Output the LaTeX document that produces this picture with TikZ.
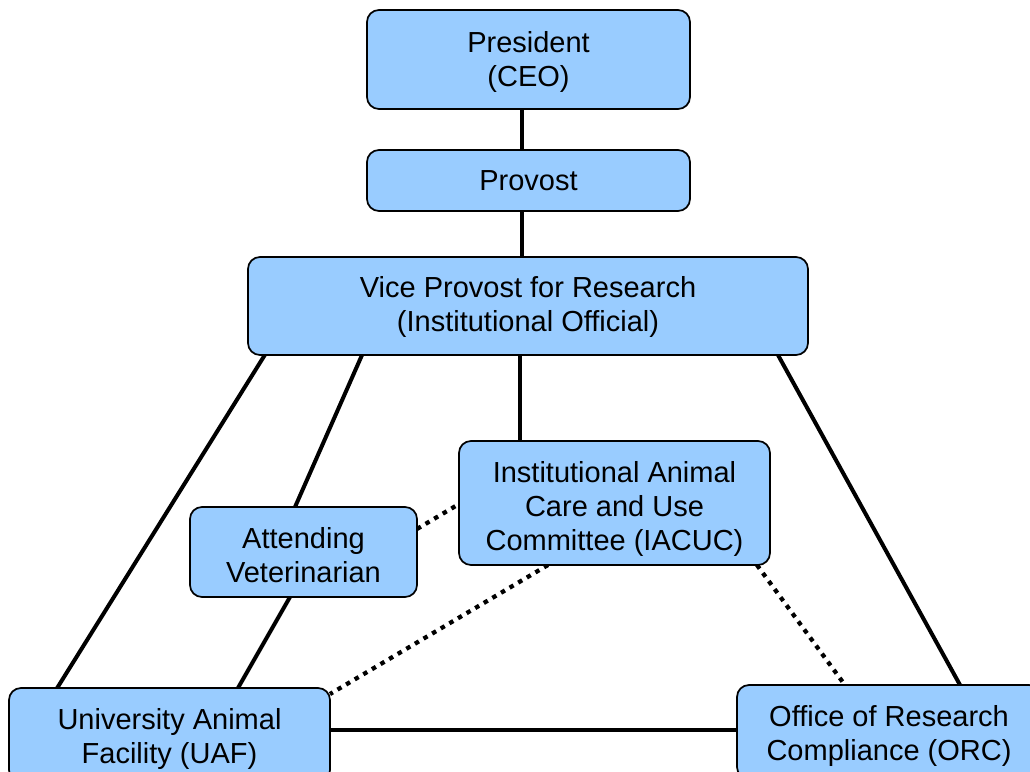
\documentclass[tikz,border=0pt]{standalone}
\usepackage{fontspec}
\setmainfont{Liberation Sans}
\usetikzlibrary{calc,backgrounds}
\definecolor{boxblue}{HTML}{99CCFF}
\tikzset{
  orgbox/.style={draw=black, fill=boxblue, line width=1.3pt, rounded corners=9pt,
    inner sep=0pt, outer sep=0pt, align=center,
    font=\fontsize{21.75}{25.5}\selectfont},
  solidline/.style={draw=black, line width=3pt},
  dotline/.style={draw=black, line width=3.2pt, dash pattern=on 3.4pt off 4.1pt}
}
\newcommand{\upstrut}[1]{\rule{0pt}{#1}}
\begin{document}
\begin{tikzpicture}[x=0.75pt,y=-0.75pt]
\useasboundingbox (0,0) rectangle (1030,771);
\clip (0,0) rectangle (1030,771);
\node[orgbox, minimum width=242.25pt, minimum height=74.25pt] (pres) at (528.5,59.5) {\upstrut{19pt}President\\(CEO)};
\node[orgbox, minimum width=242.25pt, minimum height=45.75pt] (prov) at (528.5,180.5) {Provost};
\node[orgbox, minimum width=420pt, minimum height=73.5pt] (vp) at (528,306) {\upstrut{17.5pt}Vice Provost for Research\\(Institutional Official)};
\node[orgbox, minimum width=233.25pt, minimum height=93pt] (iacuc) at (614.5,503) {\upstrut{25pt}Institutional Animal\\Care and Use\\Committee (IACUC)};
\node[orgbox, minimum width=170.25pt, minimum height=67.5pt] (vet) at (303.5,552) {\upstrut{20.5pt}Attending\\Veterinarian};
\node[orgbox, minimum width=240.75pt, minimum height=70.5pt] (uaf) at (169.5,735) {\upstrut{22pt}University Animal\\Facility (UAF)};
\node[orgbox, minimum width=228pt, minimum height=70.5pt] (orc) at (889,732) {\upstrut{22pt}Office of Research\\Compliance (ORC)};
\coordinate (xa) at (522,0);
\coordinate (xb) at (520,0);
\begin{scope}[on background layer]
  \draw[solidline] (pres.south -| xa) -- (prov.north -| xa);
  \draw[solidline] (prov.south -| xa) -- (vp.north -| xa);
  \draw[solidline] (vp.south -| xb) -- (iacuc.north -| xb);
  \draw[solidline] ($(vp.south west)!0.03!(vp.south east)$) -- ($(uaf.north west)!0.15!(uaf.north east)$);
  \draw[solidline] ($(vp.south west)!0.2036!(vp.south east)$) -- ($(vet.north west)!0.4626!(vet.north east)$);
  \draw[solidline] ($(vet.south west)!0.4405!(vet.south east)$) -- ($(uaf.north west)!0.7134!(uaf.north east)$);
  \draw[solidline] ($(vp.south west)!0.9464!(vp.south east)$) -- ($(orc.north west)!0.7336!(orc.north east)$);
  \coordinate (uafr) at ($(uaf.north east)!0.447!(uaf.south east)$);
  \draw[solidline] (uafr) -- (uafr -| orc.west);
  \draw[dotline] ($(vet.north east)!0.244!(vet.south east)$) -- ($(iacuc.north west)!0.508!(iacuc.south west)$);
  \draw[dotline] ($(iacuc.south west)!0.286!(iacuc.south east)$) -- ($(uaf.north east)!0.064!(uaf.south east)$);
  \draw[dotline] ($(iacuc.south west)!0.958!(iacuc.south east)$) -- ($(orc.north west)!0.355!(orc.north east)$);
\end{scope}
\end{tikzpicture}
\end{document}
